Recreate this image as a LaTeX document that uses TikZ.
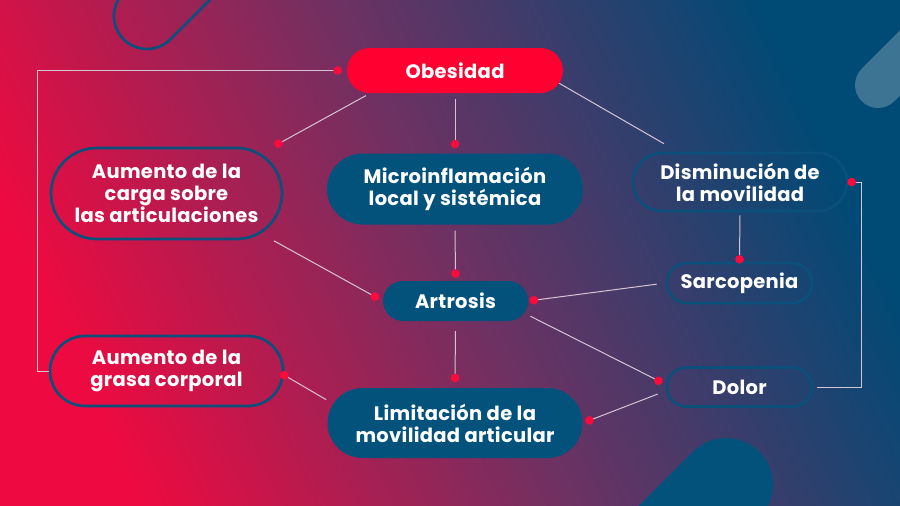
\documentclass[tikz,border=0pt]{standalone}
\usepackage{fontspec}
\setmainfont{Poppins}[LetterSpace=1.5]
\usetikzlibrary{shapes.misc,arrows.meta}
\definecolor{bgred}{HTML}{EE0A40}
\definecolor{bgmid}{HTML}{6E3162}
\definecolor{bgblue}{HTML}{004A76}
\definecolor{obred}{HTML}{FF0030}
\definecolor{dotred}{HTML}{FF0A3C}
\definecolor{boxblue}{HTML}{03527B}
\definecolor{ringblue}{HTML}{0B4F7B}
\definecolor{steel}{HTML}{3D7494}
\definecolor{linkgray}{RGB}{214,196,212}
\tikzset{pill/.style={rounded rectangle,text=white,align=center,inner sep=0pt,
    font=\bfseries\fontsize{19.5}{22}\selectfont},
  rednode/.style={pill,fill=obred},
  bluenode/.style={pill,fill=boxblue},
  ringnode/.style={pill,draw=ringblue,line width=2.7pt},
  link/.style={draw=linkgray,line width=1pt,-{Circle[length=8.5pt,color=dotred]}}}

\begin{document}
\begin{tikzpicture}[x=1pt,y=-1pt]
    \clip (0,0) rectangle (900,506);
    \shade[bottom color=bgred,top color=bgblue,middle color=bgmid,shading angle=-65] (0,0) rectangle (900,506);
    \begin{scope}[shift={(147,16)},rotate=45]
        \draw[ringblue,line width=2.7pt] (250,33) -- (0,33) arc[start angle=90,end angle=270,radius=33] -- (250,-33);
    \end{scope}
    \begin{scope}[shift={(878,85)},rotate=45]
        \fill[steel] (250,23) -- (0,23) arc[start angle=90,end angle=270,radius=23] -- (250,-23) -- cycle;
    \end{scope}
    \begin{scope}[shift={(726,485)},rotate=225]
        \fill[boxblue] (250,47) -- (0,47) arc[start angle=90,end angle=270,radius=47] -- (250,-47) -- cycle;
    \end{scope}
    \node[rednode,minimum width=216pt,minimum height=45pt] (obes) at (455,70.5) {Obesidad};
    \node[ringnode,minimum width=231pt,minimum height=91pt] (carga) at (166.5,193.5) {Aumento de la\\carga sobre\\las articulaciones};
    \node[bluenode,minimum width=256pt,minimum height=71pt] (micro) at (455,189) {Microinflamación\\local y sistémica};
    \node[ringnode,minimum width=214pt,minimum height=58pt] (dism) at (740,182) {Disminución de\\la movilidad};
    \node[ringnode,minimum width=145pt,minimum height=40pt] (sarc) at (739.5,283) {Sarcopenia};
    \node[bluenode,minimum width=145pt,minimum height=40pt] (artr) at (455.5,301) {Artrosis};
    \node[ringnode,minimum width=233pt,minimum height=70pt] (grasa) at (166.5,371) {Aumento de la\\grasa corporal};
    \node[ringnode,minimum width=145pt,minimum height=39pt] (dolor) at (739.5,387) {Dolor};
    \node[bluenode,minimum width=255pt,minimum height=70pt] (limit) at (455,423) {Limitación de la\\movilidad articular};
    \draw[link,shorten >=5pt] (grasa.west) -- ++(-11,0) |- (obes.west);
    \draw[link,shorten <=5pt,shorten >=16pt] (obes.195) -- (carga.23);
    \draw[link,shorten <=6pt,shorten >=5pt] (obes.south) -- (micro.north);
    \draw[draw=linkgray,line width=1pt,shorten <=16pt] (dism.154) -- (obes.-7);
    \draw[link,shorten <=3pt,shorten >=-2pt] (dism.south) -- (sarc.north);
    \draw[link,shorten <=4pt,shorten >=-1pt] (dolor.east) -- ++(48,0) |- (dism.east);
    \draw[link,shorten <=9pt,shorten >=1.5pt] (sarc.west) -- (artr.east);
    \draw[link,shorten <=15pt,shorten >=4.7pt] (carga.-23) -- (artr.west);
    \draw[link,shorten <=6pt,shorten >=3pt] (micro.south) -- (artr.north);
    \draw[link,shorten <=7pt,shorten >=4pt] (artr.-10) -- (dolor.178);
    \draw[link,shorten <=10pt,shorten >=5.7pt] (artr.south) -- (limit.north);
    \draw[link,shorten <=8pt,shorten >=-4pt] (limit.171) -- (grasa.-2);
    \draw[link,shorten <=9pt,shorten >=3pt] (dolor.183) -- (limit.east);
\end{tikzpicture}
\end{document}
